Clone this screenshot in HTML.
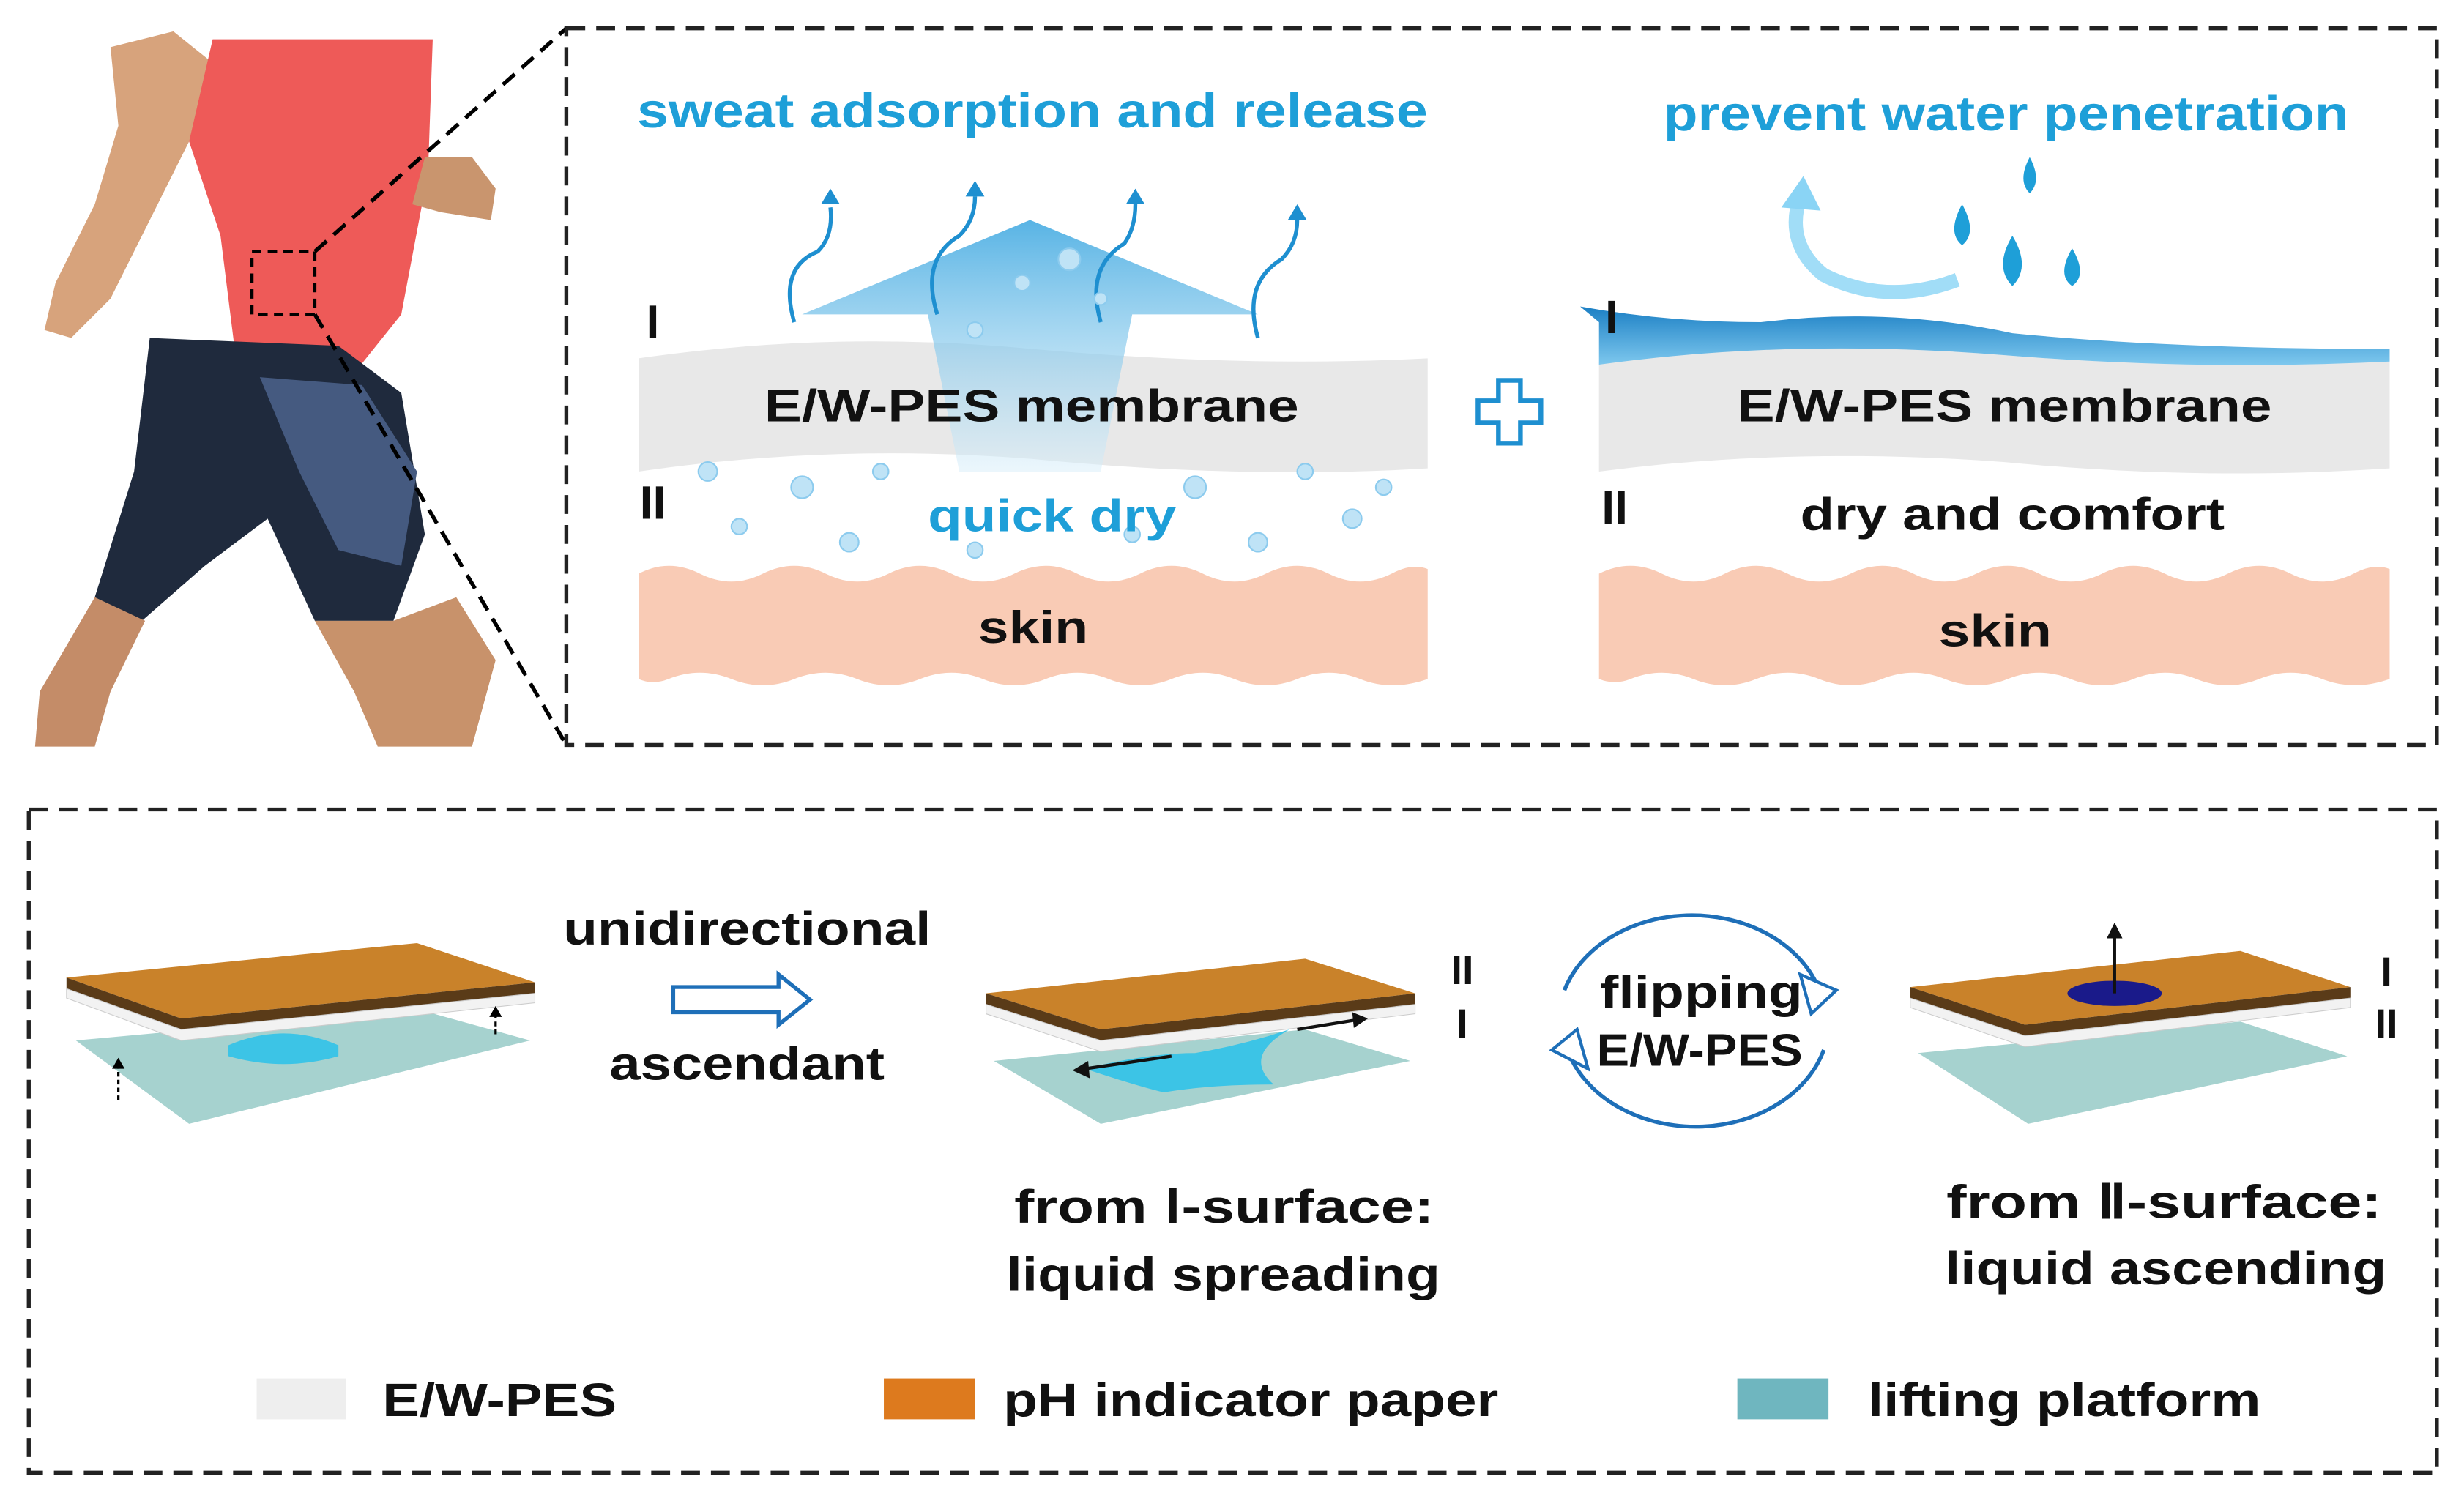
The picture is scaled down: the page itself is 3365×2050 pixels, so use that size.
<!DOCTYPE html>
<html><head><meta charset="utf-8"><style>
html,body{margin:0;padding:0;background:#fff;}
svg{display:block;}
text{font-family:"Liberation Sans",Arial,sans-serif;font-weight:bold;}
</style></head><body>
<svg width="3365" height="2050" viewBox="0 0 1567 955" xmlns="http://www.w3.org/2000/svg">
<defs>
<linearGradient id="ag" x1="0" y1="0" x2="0" y2="1"><stop offset="0" stop-color="#3aa6e0"/><stop offset="1" stop-color="#d8eef9" stop-opacity="0.6"/></linearGradient>
<linearGradient id="wv" x1="0" y1="0" x2="0" y2="1"><stop offset="0" stop-color="#1b7fc4"/><stop offset="1" stop-color="#7ec8ee"/></linearGradient>
</defs>
<rect width="1567" height="955" fill="#fff"/>

<g>
<path d="M70 30 L110 20 L135 40 L120 90 L95 140 L70 190 L45 215 L28 210 L35 180 L60 130 L75 80 Z" fill="#d7a37c"/>
<path d="M135 25 L275 25 L272 110 L255 200 L215 250 L150 230 L140 150 L120 90 Z" fill="#ee5a58"/>
<path d="M270 100 L300 100 L315 120 L312 140 L280 135 L262 130 Z" fill="#c9956e"/>
<path d="M95 215 L215 220 L255 250 L270 340 L250 395 L200 395 L170 330 L130 360 L90 395 L60 380 L85 300 Z" fill="#1f2a3d"/>
<path d="M165 240 L230 245 L265 300 L255 360 L215 350 L190 300 Z" fill="#455a80"/>
<path d="M60 380 L92 395 L70 440 L60 475 L22 475 L25 440 Z" fill="#c48c68"/>
<path d="M200 395 L250 395 L290 380 L315 420 L300 475 L240 475 L225 440 Z" fill="#c8926b"/>
<rect x="160" y="160" width="40" height="40" fill="none" stroke="#000" stroke-width="2" stroke-dasharray="6,4"/>
</g>
<line x1="200" y1="160" x2="360" y2="18" stroke="#000" stroke-width="2.5" stroke-dasharray="10,6"/>
<line x1="200" y1="200" x2="360" y2="474" stroke="#000" stroke-width="2.5" stroke-dasharray="10,6"/>

<rect x="360" y="18" width="1190" height="456" fill="none" stroke="#222" stroke-width="2.5" stroke-dasharray="12,7"/>
<rect x="18" y="515" width="1532" height="422" fill="none" stroke="#222" stroke-width="2.5" stroke-dasharray="12,7"/>

<text x="656.5" y="81" font-size="31" fill="#1e9fd8" text-anchor="middle" textLength="503" lengthAdjust="spacingAndGlyphs">sweat adsorption and release</text>
<path d="M406 228 Q530 210 656 222 Q790 234 908 228 L908 298 Q790 305 656 292 Q530 282 406 300 Z" fill="#e8e8e8"/>
<path d="M406 365 Q425 355 445 365 Q465 375 485 365 Q505 355 525 365 Q545 375 565 365 Q585 355 605 365 Q625 375 645 365 Q665 355 685 365 Q705 375 725 365 Q745 355 765 365 Q785 375 805 365 Q825 355 845 365 Q865 375 885 365 Q898 358 908 362 L908 432 Q885 440 865 432 Q845 424 825 432 Q805 440 785 432 Q765 424 745 432 Q725 440 705 432 Q685 424 665 432 Q645 440 625 432 Q605 424 585 432 Q565 440 545 432 Q525 424 505 432 Q485 440 465 432 Q445 424 425 432 Q415 436 406 432 Z" fill="#f9cbb5"/>
<path d="M510 200 L655 140 L800 200 L720 200 L700 300 L610 300 L590 200 Z" fill="url(#ag)" opacity="0.85"/>
<g fill="none" stroke="#1e8fd0" stroke-width="2.5">
<path d="M505 205 Q495 170 520 160 Q530 150 528 132"/><path d="M596 200 Q585 165 610 150 Q620 140 620 125"/>
<path d="M700 205 Q690 170 715 155 Q722 145 722 130"/><path d="M800 215 Q790 180 815 165 Q825 155 825 140"/>
</g>
<g fill="#1e8fd0"><path d="M522 130 L534 130 L528 120Z"/><path d="M614 125 L626 125 L620 115Z"/><path d="M716 130 L728 130 L722 120Z"/><path d="M819 140 L831 140 L825 130Z"/></g>
<g fill="#bfe3f6" stroke="#8ccbee" stroke-width="1">
<circle cx="450" cy="300" r="6"/><circle cx="470" cy="335" r="5"/><circle cx="510" cy="310" r="7"/><circle cx="540" cy="345" r="6"/><circle cx="560" cy="300" r="5"/><circle cx="620" cy="350" r="5"/><circle cx="760" cy="310" r="7"/><circle cx="800" cy="345" r="6"/><circle cx="830" cy="300" r="5"/><circle cx="860" cy="330" r="6"/><circle cx="880" cy="310" r="5"/><circle cx="680" cy="165" r="7"/><circle cx="650" cy="180" r="5"/><circle cx="700" cy="190" r="4"/><circle cx="620" cy="210" r="5"/><circle cx="720" cy="340" r="5"/>
</g>
<text x="656" y="268" font-size="29" fill="#111" text-anchor="middle" textLength="340" lengthAdjust="spacingAndGlyphs">E/W-PES membrane</text>
<text x="669" y="338" font-size="29" fill="#1e9fd8" text-anchor="middle" textLength="158" lengthAdjust="spacingAndGlyphs">quick dry</text>
<text x="657" y="409" font-size="29" fill="#111" text-anchor="middle" textLength="70" lengthAdjust="spacingAndGlyphs">skin</text>
<text x="415" y="215" font-size="30" fill="#111" text-anchor="middle" font-family="Liberation Serif">I</text>
<text x="415" y="330" font-size="30" fill="#111" text-anchor="middle" font-family="Liberation Serif">II</text>

<path d="M953 242 L967 242 L967 255 L980 255 L980 269 L967 269 L967 282 L953 282 L953 269 L940 269 L940 255 L953 255 Z" fill="#fff" stroke="#1e8fd0" stroke-width="3"/>

<text x="1276" y="83" font-size="31" fill="#1e9fd8" text-anchor="middle" textLength="436" lengthAdjust="spacingAndGlyphs">prevent water penetration</text>
<path d="M1017 230 Q1140 215 1275 226 Q1400 236 1520 228 L1520 298 Q1400 306 1275 294 Q1140 284 1017 300 Z" fill="#e8e8e8"/>
<path d="M1005 195 Q1060 205 1120 205 Q1200 195 1280 212 Q1380 222 1520 222 L1520 230 Q1400 236 1275 226 Q1140 215 1017 232 L1017 205 Z" fill="url(#wv)"/>
<path d="M1017 365 Q1037 355 1057 365 Q1077 375 1097 365 Q1117 355 1137 365 Q1157 375 1177 365 Q1197 355 1217 365 Q1237 375 1257 365 Q1277 355 1297 365 Q1317 375 1337 365 Q1357 355 1377 365 Q1397 375 1417 365 Q1437 355 1457 365 Q1477 375 1497 365 Q1510 358 1520 362 L1520 432 Q1497 440 1477 432 Q1457 424 1437 432 Q1417 440 1397 432 Q1377 424 1357 432 Q1337 440 1317 432 Q1297 424 1277 432 Q1257 440 1237 432 Q1217 424 1197 432 Q1177 440 1157 432 Q1137 424 1117 432 Q1097 440 1077 432 Q1057 424 1037 432 Q1027 436 1017 432 Z" fill="#f9cbb5"/>
<path d="M1245 178 Q1200 195 1160 175 Q1135 155 1145 125" fill="none" stroke="#8ad4f5" stroke-width="9" opacity="0.8"/>
<path d="M1133 132 L1147 112 L1158 134 Z" fill="#8ad4f5"/>
<g fill="#1e9fd8"><path d="M1291 100 Q1283 115 1291 123 Q1299 115 1291 100Z"/><path d="M1248 130 Q1238 148 1248 156 Q1258 148 1248 130Z"/><path d="M1280 150 Q1268 170 1280 182 Q1292 170 1280 150Z"/><path d="M1318 158 Q1308 175 1318 182 Q1328 175 1318 158Z"/></g>
<text x="1275" y="268" font-size="29" fill="#111" text-anchor="middle" textLength="340" lengthAdjust="spacingAndGlyphs">E/W-PES membrane</text>
<text x="1280" y="337" font-size="29" fill="#111" text-anchor="middle" textLength="270" lengthAdjust="spacingAndGlyphs">dry and comfort</text>
<text x="1269" y="411" font-size="29" fill="#111" text-anchor="middle" textLength="72" lengthAdjust="spacingAndGlyphs">skin</text>
<text x="1025" y="212" font-size="30" fill="#111" text-anchor="middle" font-family="Liberation Serif">I</text>
<text x="1027" y="333" font-size="30" fill="#111" text-anchor="middle" font-family="Liberation Serif">II</text>

<path d="M48 662 L265 642 L337 662 L120 715 Z" fill="#a6d2cf"/>
<path d="M145 665 Q180 650 215 665 L215 672 Q180 682 145 672 Z" fill="#3cc4e6"/>
<path d="M42 622 L265 600 L340 625 L115 648 Z" fill="#c9822a"/>
<path d="M42 622 L115 648 L340 625 L340 632 L115 655 L42 629 Z" fill="#5a3b18"/>
<path d="M42 629 L115 655 L340 632 L340 638 L115 662 L42 635 Z" fill="#f2f2f2" stroke="#ccc" stroke-width="0.5"/>
<line x1="75" y1="700" x2="75" y2="678" stroke="#000" stroke-width="1.5" stroke-dasharray="3,2"/><path d="M71 680 L79 680 L75 673Z"/>
<line x1="315" y1="658" x2="315" y2="645" stroke="#000" stroke-width="1.5" stroke-dasharray="3,2"/><path d="M311 647 L319 647 L315 640Z"/>

<text x="475" y="601" font-size="30" fill="#111" text-anchor="middle" textLength="234" lengthAdjust="spacingAndGlyphs">unidirectional</text>
<path d="M428 628 L495 628 L495 620 L515 636 L495 652 L495 644 L428 644 Z" fill="#fff" stroke="#1e6fb8" stroke-width="2.5"/>
<text x="475" y="687" font-size="30" fill="#111" text-anchor="middle" textLength="175" lengthAdjust="spacingAndGlyphs">ascendant</text>

<path d="M632 675 L830 655 L897 675 L700 715 Z" fill="#a6d2cf"/>
<path d="M690 680 Q730 670 760 670 Q790 665 820 655 Q790 672 810 690 Q770 690 740 695 Q720 690 690 680Z" fill="#3cc4e6"/>
<path d="M627 632 L830 610 L900 632 L700 655 Z" fill="#c9822a"/>
<path d="M627 632 L700 655 L900 632 L900 639 L700 662 L627 639 Z" fill="#5a3b18"/>
<path d="M627 639 L700 662 L900 639 L900 645 L700 669 L627 645 Z" fill="#f2f2f2" stroke="#ccc" stroke-width="0.5"/>
<line x1="690" y1="680" x2="745" y2="672" stroke="#111" stroke-width="2"/><path d="M682 681 L692 675 L693 686Z" fill="#111"/>
<line x1="825" y1="655" x2="862" y2="649" stroke="#111" stroke-width="2"/><path d="M870 648 L860 644 L861 654Z" fill="#111"/>
<text x="930" y="626" font-size="26" fill="#111" text-anchor="middle" font-family="Liberation Serif">II</text>
<text x="930" y="660" font-size="26" fill="#111" text-anchor="middle" font-family="Liberation Serif">I</text>

<path d="M995 630 A85 68 0 0 1 1155 625" fill="none" stroke="#1e6fb8" stroke-width="2.5"/>
<path d="M1145 620 L1168 630 L1152 645 Z" fill="#fff" stroke="#1e6fb8" stroke-width="2"/>
<path d="M1160 668 A85 68 0 0 1 1000 675" fill="none" stroke="#1e6fb8" stroke-width="2.5"/>
<path d="M1010 680 L987 668 L1003 655 Z" fill="#fff" stroke="#1e6fb8" stroke-width="2"/>
<text x="1082" y="641" font-size="29" fill="#111" text-anchor="middle" textLength="129" lengthAdjust="spacingAndGlyphs">flipping</text>
<text x="1081" y="678" font-size="29" fill="#111" text-anchor="middle" textLength="131" lengthAdjust="spacingAndGlyphs">E/W-PES</text>

<path d="M1220 670 L1425 650 L1493 672 L1290 715 Z" fill="#a6d2cf"/>
<path d="M1215 628 L1425 605 L1495 628 L1288 652 Z" fill="#c9822a"/>
<ellipse cx="1345" cy="632" rx="30" ry="8" fill="#1a1a8a"/>
<line x1="1345" y1="632" x2="1345" y2="595" stroke="#111" stroke-width="2"/><path d="M1340 597 L1350 597 L1345 587Z" fill="#111"/>
<path d="M1215 628 L1288 652 L1495 628 L1495 635 L1288 659 L1215 635 Z" fill="#5a3b18"/>
<path d="M1215 635 L1288 659 L1495 635 L1495 641 L1288 666 L1215 641 Z" fill="#f2f2f2" stroke="#ccc" stroke-width="0.5"/>
<text x="1518" y="627" font-size="26" fill="#111" text-anchor="middle" font-family="Liberation Serif">I</text>
<text x="1518" y="660" font-size="26" fill="#111" text-anchor="middle" font-family="Liberation Serif">II</text>

<text x="645" y="778" font-size="30" fill="#111" textLength="267" lengthAdjust="spacingAndGlyphs">from Ⅰ-surface:</text>
<text x="640" y="821" font-size="30" fill="#111" textLength="276" lengthAdjust="spacingAndGlyphs">liquid spreading</text>
<text x="1238" y="775" font-size="30" fill="#111" textLength="277" lengthAdjust="spacingAndGlyphs">from Ⅱ-surface:</text>
<text x="1237" y="817" font-size="30" fill="#111" textLength="281" lengthAdjust="spacingAndGlyphs">liquid ascending</text>

<rect x="163" y="877" width="57" height="26" fill="#eeeeee"/>
<text x="243" y="901" font-size="30" fill="#111" textLength="149" lengthAdjust="spacingAndGlyphs">E/W-PES</text>
<rect x="562" y="877" width="58" height="26" fill="#dd7a1e"/>
<text x="638" y="901" font-size="30" fill="#111" textLength="315" lengthAdjust="spacingAndGlyphs">pH indicator paper</text>
<rect x="1105" y="877" width="58" height="26" fill="#6fb6bf"/>
<text x="1188" y="901" font-size="30" fill="#111" textLength="250" lengthAdjust="spacingAndGlyphs">lifting platform</text>
</svg>
</body></html>
